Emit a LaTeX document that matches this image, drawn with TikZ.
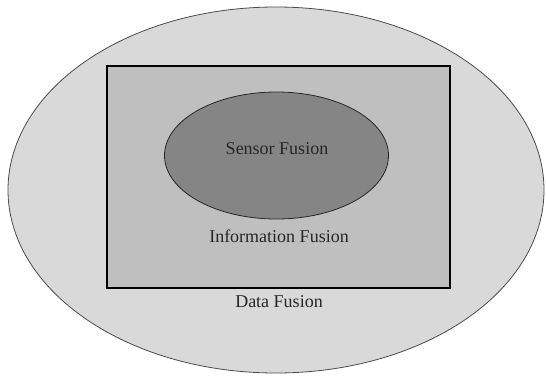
\documentclass[tikz,border=0pt]{standalone}
\usepackage{fontspec}
\setmainfont{Liberation Serif}
\usetikzlibrary{shapes.geometric}
\begin{document}
\begin{tikzpicture}[x=1pt,y=-1pt,
  region/.style={draw=black!70, line width=0.8pt},
  label/.style={font=\fontsize{18}{20}\selectfont, text=black!85, inner sep=0pt}]
  \useasboundingbox[fill=white] (0,0) rectangle (546,375);
  % outer region: data fusion
  \draw[region, fill=black!15] (276,190) ellipse [x radius=268, y radius=183];
  % middle region: information fusion
  \draw[draw=black, line width=1.1pt, fill=black!25] (107,66) rectangle (450,288);
  % inner region: sensor fusion
  \draw[region, draw=black!85, fill=black!48] (276.5,155.5) ellipse [x radius=112, y radius=63.5];
  \node[label] (sensor) at (277,149) {Sensor Fusion};
  \node[label] (info) at (279,236) {Information Fusion};
  \node[label] (data) at (279,302) {Data Fusion};
\end{tikzpicture}
\end{document}
